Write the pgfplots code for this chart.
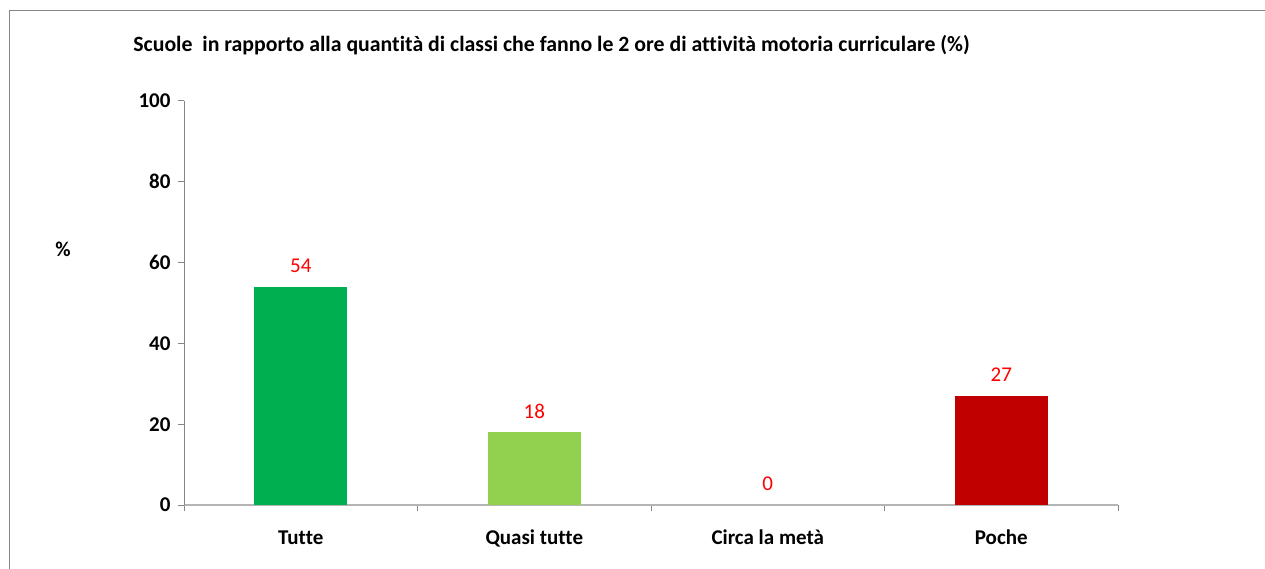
\documentclass[border=0pt]{standalone}
\usepackage{pgfplots}
\pgfplotsset{compat=1.18}
\usepackage{fontspec}
\setmainfont{Carlito}[Ligatures={NoCommon}]
\definecolor{cA}{HTML}{00B050}
\definecolor{cB}{HTML}{92D050}
\definecolor{cD}{HTML}{C00000}
\definecolor{yax}{HTML}{868686}
\definecolor{xax}{HTML}{B5B5B5}
\begin{document}
\begin{tikzpicture}[x=1pt,y=1pt]
\useasboundingbox (0,0) rectangle (1265,568);
\draw[yax, line width=1pt] (9,-5) -- (9,557) -- (1270,557);
\node[font=\fontsize{21.8}{25}\selectfont\bfseries] at (551.5,523) {Scuole\ \ in rapporto alla quantità di classi che fanno le 2 ore di attività motoria curriculare (\%)};
\node[font=\fontsize{21}{25}\selectfont\bfseries] at (63,319) {\%};
\begin{axis}[at={(184pt,63pt)}, anchor=south west, scale only axis,
  width=934pt, height=404pt,
  xmin=-0.5, xmax=3.5, ymin=0, ymax=100,
  ytick={0,20,...,100},
  xtick={-0.5,0.5,1.5,2.5,3.5}, xticklabels={,,,,},
  extra x ticks={0,1,2,3},
  extra x tick labels={Tutte,Quasi tutte,Circa la metà,Poche},
  extra x tick style={major tick length=0pt},
  axis x line*=bottom, axis y line*=left,
  x axis line style={xax, line width=1.6pt},
  y axis line style={yax, line width=1pt},
  tick align=outside, major tick length=6pt,
  xtick style={yax, line width=1pt},
  ytick style={yax, line width=1pt},
  /pgf/number format/assume math mode=true,
  tick label style={font=\fontsize{21}{25}\selectfont\bfseries, text=black},
  xticklabel style={anchor=base, yshift=-39pt},
  yticklabel style={anchor=east, xshift=-4pt},
  clip=false,
  nodes near coords,
  nodes near coords style={font=\fontsize{21}{25}\selectfont, text=red, anchor=center, yshift=21pt},
]
\addplot[ybar, bar width=93pt, bar shift=0pt, fill=cA, draw=none] coordinates {(0,54)};
\addplot[ybar, bar width=93pt, bar shift=0pt, fill=cB, draw=none] coordinates {(1,18)};
\addplot[ybar, bar width=93pt, bar shift=0pt, fill=none, draw=none] coordinates {(2,0)};
\addplot[ybar, bar width=93pt, bar shift=0pt, fill=cD, draw=none] coordinates {(3,27)};
\end{axis}
\end{tikzpicture}
\end{document}
